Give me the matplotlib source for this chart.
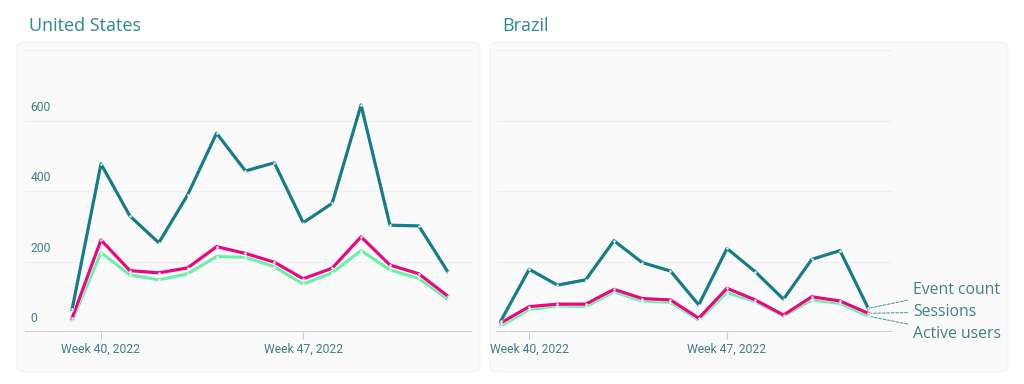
import matplotlib
matplotlib.use("Agg")
import matplotlib.pyplot as plt
from matplotlib.patches import FancyBboxPatch
from matplotlib.transforms import blended_transform_factory

weeks = [39, 40, 41, 42, 43, 44, 45, 46, 47, 48, 49, 50, 51, 52]
tick_weeks = [40, 47]
tick_labels = ["Week 40, 2022", "Week 47, 2022"]
y_grid = [0, 200, 400, 600, 800]
y_labels = ["0", "200", "400", "600"]

us_events = [64, 477, 329, 253, 389, 564, 457, 480, 310, 365, 644, 303, 301, 171]
us_sessions = [39, 261, 174, 168, 182, 242, 223, 198, 151, 181, 270, 190, 165, 102]
us_users = [32, 225, 162, 148, 165, 214, 212, 185, 136, 168, 231, 176, 152, 93]

br_events = [32, 178, 133, 148, 259, 197, 173, 77, 237, 171, 93, 206, 231, 67]
br_sessions = [26, 72, 79, 79, 121, 95, 91, 39, 124, 91, 48, 100, 88, 53]
br_users = [17, 64, 74, 72, 114, 88, 84, 34, 112, 86, 45, 91, 81, 45]

series_names = ["Event count", "Sessions", "Active users"]
C_EVENT = "#167d87"
C_SESS = "#e8087f"
C_USER = "#6cf0a8"
TEXT_C = "#3f8088"
TITLE_C = "#2b8a8c"

W, H = 1024, 384
fig = plt.figure(figsize=(W / 100, H / 100), dpi=100)
fig.patch.set_facecolor("white")


def fx(px):
    return px / W


def fy(py):
    return 1 - py / H


# cards
for (x0, x1) in [(17, 480), (490, 1008)]:
    card = FancyBboxPatch((fx(x0), fy(372)), fx(x1 - x0), (372 - 42) / H,
                          boxstyle="round,pad=0,rounding_size=0.012",
                          transform=fig.transFigure, facecolor="#fafafa",
                          edgecolor="#f3f3f3", linewidth=0.8, zorder=-5)
    fig.add_artist(card)

fig.text(fx(29), fy(26), "United States", fontsize=13, color=TITLE_C,
         family="Open Sans", va="center", ha="left")
fig.text(fx(502), fy(26), "Brazil", fontsize=13, color=TITLE_C,
         family="Open Sans", va="center", ha="left")


def make_axes(x0, x1, xlim, show_ylabels):
    ax = fig.add_axes([fx(x0), fy(332), fx(x1 - x0), (332 - 50) / H])
    ax.set_zorder(2)
    ax.set_facecolor("none")
    ax.set_xlim(*xlim)
    ax.set_ylim(0, 800)
    for s in ax.spines.values():
        s.set_visible(False)
    for g in y_grid[1:]:
        ax.axhline(g, color="#efefef", lw=0.8, zorder=0.5)
    ax.axhline(0, color="#c8c8c8", lw=1.3, zorder=1)
    ax.set_yticks([])
    ax.set_xticks(tick_weeks)
    ax.set_xticklabels(tick_labels, family="Roboto", fontsize=8.7, color=TEXT_C)
    ax.tick_params(axis="x", length=5, width=0.8, color="#c8c8c8", pad=3)
    if show_ylabels:
        tr = blended_transform_factory(ax.transAxes, ax.transData)
        for v, lab in zip(y_grid, y_labels):
            ax.annotate(lab, xy=(0, v), xycoords=tr, xytext=(4, 5),
                        textcoords="offset points", ha="left", va="bottom",
                        fontsize=8.7, color=TEXT_C, family="Roboto")
    return ax


def draw(ax, ev, se, us):
    for vals, c, z in [(us, C_USER, 2), (se, C_SESS, 3), (ev, C_EVENT, 4)]:
        ax.plot(weeks, vals, color="white", lw=3.2, zorder=z - 0.5,
                solid_joinstyle="round", alpha=0.6, clip_on=False)
        ax.plot(weeks, vals, color=c, lw=2.3, zorder=z, solid_joinstyle="round",
                marker="o", ms=1.8, mfc="white", mec="none", clip_on=False)


ax1 = make_axes(25, 472, (37.37, 52.84), True)
draw(ax1, us_events, us_sessions, us_users)

ax2 = make_axes(497, 892, (38.86, 52.84), False)
draw(ax2, br_events, br_sessions, br_users)

# end labels with dashed leaders
label_y = [290, 312, 334]
ends = [br_events[-1], br_sessions[-1], br_users[-1]]
for name, ly, v in zip(series_names, label_y, ends):
    ax2.annotate(name, xy=(weeks[-1], v), xycoords="data",
                 xytext=(fx(913), fy(ly)), textcoords="figure fraction",
                 ha="left", va="center", fontsize=11.3, color=TEXT_C,
                 family="Open Sans", annotation_clip=False,
                 arrowprops=dict(arrowstyle="-", linestyle=(0, (2.5, 1.5)),
                                 color="#5a9aa0", lw=0.8, shrinkA=2, shrinkB=2))

fig.savefig("out.png", dpi=100, facecolor="white")
